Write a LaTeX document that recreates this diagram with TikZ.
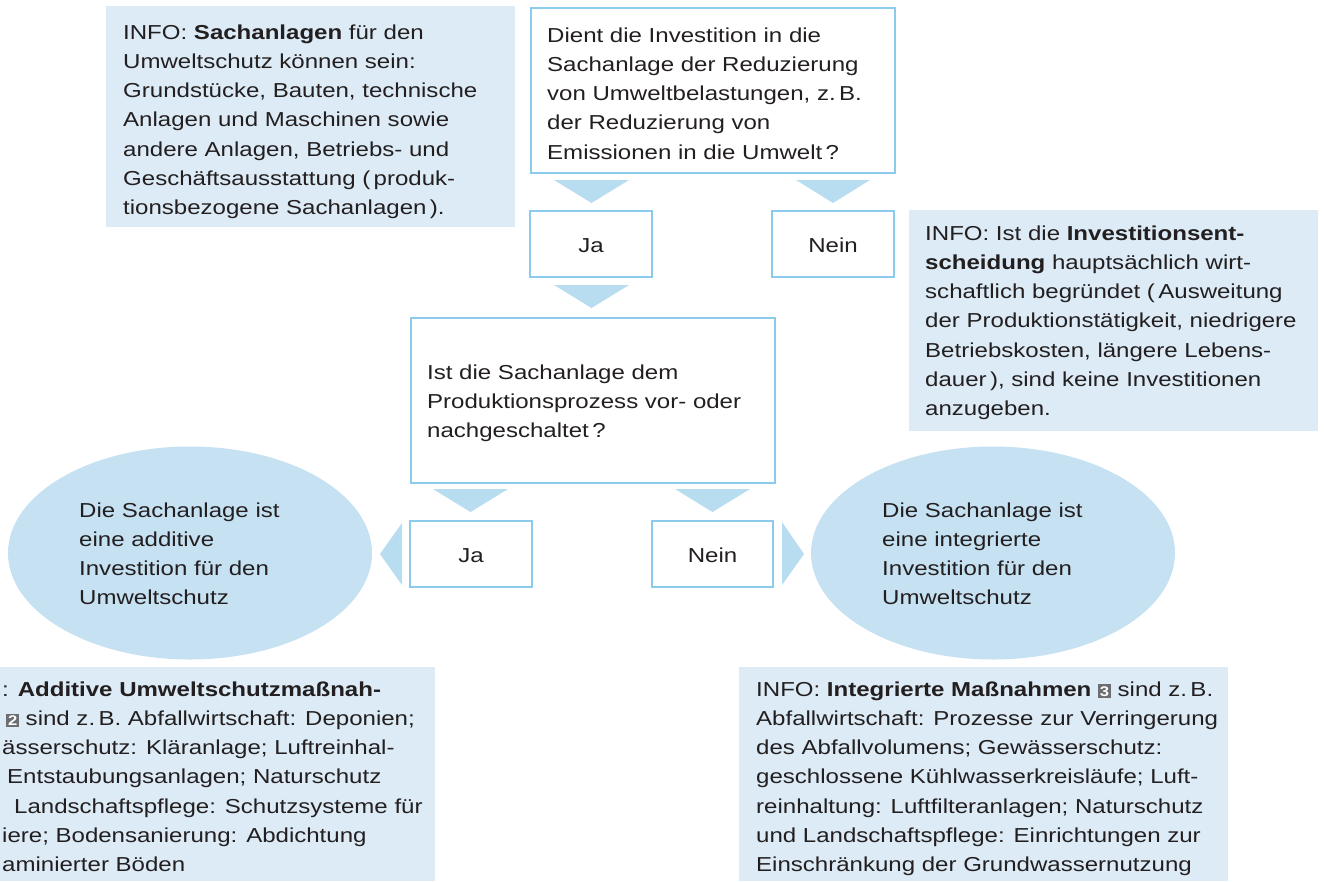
\documentclass[tikz,border=0pt]{standalone}
\usepackage{fontspec}
\setmainfont[FakeStretch=1.19]{Liberation Sans}
\usetikzlibrary{shapes.geometric}
\definecolor{infobg}{HTML}{DCEBF6}
\definecolor{ellbg}{HTML}{C5E1F2}
\definecolor{tri}{HTML}{B8DCF0}
\definecolor{boxline}{HTML}{8DCBEC}
\definecolor{txt}{HTML}{231F20}
\definecolor{badgegray}{HTML}{6D6E71}
\newcommand{\numbadge}[1]{{\setlength{\fboxsep}{1.8pt}\colorbox{badgegray}{\textcolor{white}{\fontsize{14}{14}\selectfont\bfseries #1}}}}
\tikzset{
  infobox/.style={fill=infobg, draw=none, anchor=north west, inner sep=0pt},
  qbox/.style={draw=boxline, line width=1.5pt, fill=white, anchor=north west, inner sep=0pt},
  answer/.style={draw=boxline, line width=1.5pt, fill=white, inner sep=0pt, minimum width=122pt, minimum height=66pt},
  resell/.style={ellipse, fill=ellbg, draw=none, inner sep=0pt, minimum width=364pt, minimum height=213pt},
  txtblock/.style={anchor=base west, inner sep=0pt, align=left},
  ansl/.style={anchor=base, inner sep=0pt},
  flowtri/.style={fill=tri, draw=none}
}
\begin{document}
\begin{tikzpicture}[x=1pt,y=-1pt, font=\fontsize{20.2}{29.3}\selectfont, text=txt]
\useasboundingbox (0,0) rectangle (1324,881);
\clip (0,0) rectangle (1324,881);

% info boxes
\node[infobox, minimum width=409pt, minimum height=221pt] (info1) at (106,6) {};
\node[infobox, minimum width=409pt, minimum height=221pt] (info2) at (909,210) {};
\node[infobox, minimum width=445pt, minimum height=214pt] (info3) at (-10,667) {};
\node[infobox, minimum width=489pt, minimum height=214pt] (info4) at (739,667) {};

% question boxes
\node[qbox, minimum width=364pt, minimum height=165pt] (q1) at (530,7) {};
\node[qbox, minimum width=364pt, minimum height=165pt] (q2) at (410,317) {};

% answer boxes
\node[answer] (ja1) at (591,244) {};
\node[answer] (nein1) at (833,244) {};
\node[answer] (ja2) at (471,554) {};
\node[answer, minimum width=121pt] (nein2) at (712.5,554) {};

% result ellipses
\node[resell] (ell1) at (190,553) {};
\node[resell] (ell2) at (993,553) {};

% triangles
\fill[flowtri] (554,180) -- (629,180) -- (591.5,203) -- cycle;
\fill[flowtri] (796,180) -- (870,180) -- (833,203) -- cycle;
\fill[flowtri] (554,285) -- (629,285) -- (591.5,308) -- cycle;
\fill[flowtri] (433,489) -- (508,489) -- (470.5,512) -- cycle;
\fill[flowtri] (675,489) -- (750,489) -- (712.5,512) -- cycle;
\fill[flowtri] (402,523) -- (402,585) -- (380,554) -- cycle;
\fill[flowtri] (782,522) -- (782,585) -- (804,554) -- cycle;

% texts (anchor = baseline of the last line)
\node[txtblock] (t-info1) at (123,214.8) {INFO: \textbf{Sachanlagen} für den\\Umweltschutz können sein:\\Grundstücke, Bauten, technische\\Anlagen und Maschinen sowie\\andere Anlagen, Betriebs- und\\Geschäftsausstattung (\,produk-\\tionsbezogene Sachanlagen\,).};

\node[txtblock] (t-q1) at (547,159.2) {Dient die Investition in die\\Sachanlage der Reduzierung\\von Umweltbelastungen, z.\,B.\\der Reduzierung von\\Emissionen in die Umwelt\,?};

\node[ansl] (t-ja1) at (591,252) {Ja};
\node[ansl] (t-nein1) at (833,252) {Nein};
\node[ansl] (t-ja2) at (471,562) {Ja};
\node[ansl] (t-nein2) at (712.5,562) {Nein};

\node[txtblock] (t-info2) at (925,415.8) {INFO: Ist die \textbf{Investitionsent-}\\\textbf{scheidung} hauptsächlich wirt-\\schaftlich begründet (\,Ausweitung\\der Produktionstätigkeit, niedrigere\\Betriebskosten, längere Lebens-\\dauer\,), sind keine Investitionen\\anzugeben.};

\node[txtblock] (t-q2) at (427,437.6) {Ist die Sachanlage dem\\Produktionsprozess vor- oder\\nachgeschaltet\,?};

\node[txtblock] (t-ell1) at (79,604.9) {Die Sachanlage ist\\eine additive\\Investition für den\\Umweltschutz};
\node[txtblock] (t-ell2) at (882,604.9) {Die Sachanlage ist\\eine integrierte\\Investition für den\\Umweltschutz};

\node[txtblock] (t-info3) at (2,871.8) {: \textbf{Additive Umweltschutzmaßnah-}\\\hspace*{4pt}\numbadge{2} sind z.\,B. Abfallwirtschaft: Deponien;\\ässerschutz: Kläranlage; Luftreinhal-\\\hspace*{5pt}Entstaubungsanlagen; Naturschutz\\\hspace*{12pt}Landschaftspflege: Schutzsysteme für\\iere; Bodensanierung: Abdichtung\\aminierter Böden};

\node[txtblock] (t-info4) at (756,871.8) {INFO: \textbf{Integrierte Maßnahmen} \numbadge{3} sind z.\,B.\\Abfallwirtschaft: Prozesse zur Verringerung\\des Abfallvolumens; Gewässerschutz:\\geschlossene Kühlwasserkreisläufe; Luft-\\reinhaltung: Luftfilteranlagen; Naturschutz\\und Landschaftspflege: Einrichtungen zur\\Einschränkung der Grundwassernutzung};
\end{tikzpicture}
\end{document}
